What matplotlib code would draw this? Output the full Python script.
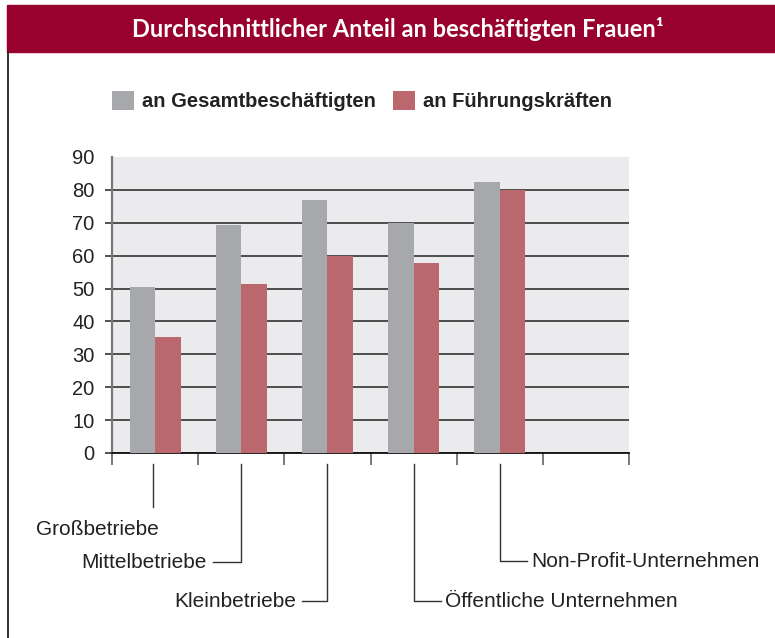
import numpy as np
import matplotlib
matplotlib.use('Agg')
import matplotlib.pyplot as plt
from matplotlib.patches import Rectangle, Patch
from matplotlib.lines import Line2D

plt.rcParams['font.family'] = ['Liberation Sans', 'DejaVu Sans']

# ---- data ----
categories = ['Großbetriebe', 'Mittelbetriebe', 'Kleinbetriebe',
              'Öffentliche Unternehmen', 'Non-Profit-Unternehmen']
series_names = ['an Gesamtbeschäftigten', 'an Führungskräften']
gesamt = [50.5, 69.3, 76.8, 69.9, 82.4]
fuehrung = [35.3, 51.3, 60.0, 57.7, 80.0]
yticks = [0, 10, 20, 30, 40, 50, 60, 70, 80, 90]
title = 'Durchschnittlicher Anteil an beschäftigten Frauen¹'

# ---- style ----
GRAY = '#a7a8ab'
RED = '#bb676e'
BANNER = '#98002e'
W, H = 775, 638

fig = plt.figure(figsize=(W / 100, H / 100), dpi=100)
fig.patch.set_facecolor('white')


def fx(px):
    return px / W


def fy(py):
    return 1 - py / H


ax = fig.add_axes([fx(112), fy(453), (629 - 112) / W, (453 - 157) / H])
n_slots = len(categories) + 1
x = np.arange(len(categories)) + 0.5
bw = 0.295
b1 = ax.bar(x - bw / 2, gesamt, bw, color=GRAY, zorder=3, label=series_names[0])
b2 = ax.bar(x + bw / 2, fuehrung, bw, color=RED, zorder=3, label=series_names[1])

ax.set_xlim(0, n_slots)
ax.set_ylim(yticks[0], yticks[-1])
ax.set_facecolor('#ebebee')
ax.set_axisbelow(True)
ax.set_yticks(yticks)
ax.set_xticks(np.arange(n_slots + 1))
ax.set_xticklabels([])
ax.tick_params(axis='x', direction='out', length=8.5, width=1.1, color='#555555')
ax.tick_params(axis='y', direction='out', length=5, width=1.2, color='#333333',
               pad=7.5, labelsize=14.5, labelcolor='#222222')
ax.yaxis.grid(True, color='#333333', lw=1.2)
ax.get_ygridlines()[-1].set_visible(False)
ax.yaxis.get_major_ticks()[-1].tick1line.set_visible(False)
for s in ['top', 'right']:
    ax.spines[s].set_visible(False)
ax.spines['left'].set_color('#777777')
ax.spines['left'].set_linewidth(1.6)
ax.spines['bottom'].set_color('#111111')
ax.spines['bottom'].set_linewidth(1.3)

# ---- legend ----
ax.legend(handles=[b1, b2], loc='upper left',
          bbox_to_anchor=(fx(112), fy(91)), bbox_transform=fig.transFigure,
          ncol=2, frameon=False, prop={'size': 14.5, 'weight': 'bold'},
          handlelength=1.09, handleheight=1.09, handletextpad=0.4,
          columnspacing=0.85, borderpad=0, borderaxespad=0, labelcolor='#222222')

# ---- banner + title ----
fig.add_artist(Rectangle((fx(7), fy(52)), fx(775) - fx(7), (52 - 5) / H,
                         transform=fig.transFigure, color=BANNER, zorder=0))
fig.text(fx(398), fy(29), title, color='white', ha='center', va='center',
         fontsize=17, fontweight='bold', family=['Lato', 'DejaVu Sans'])
fig.add_artist(Line2D([fx(7.5), fx(7.5)], [fy(52), 0], transform=fig.transFigure,
                      color='#222222', lw=1.3))

# ---- category leader labels ----
# (end_y px, horizontal end px or None, text x px, text ha, text baseline px)
leaders = [
    (507, None, 97.5, 'center', 535),
    (562, 213, 207, 'right', 568),
    (601, 302, 296, 'right', 607),
    (601, 441, 445, 'left', 607),
    (561, 527, 531, 'left', 567),
]
for i, (cat, (ey, hx, tx, ha, by)) in enumerate(zip(categories, leaders)):
    cx = ax.transData.transform((x[i], 0))[0]
    if i == 0:
        cx -= 2
    xs = [cx, cx] if hx is None else [cx, cx, hx]
    ys = [464, ey] if hx is None else [464, ey, ey]
    fig.add_artist(Line2D([fx(v) for v in xs], [fy(v) for v in ys],
                          transform=fig.transFigure, color='#333333', lw=1.0))
    fig.text(fx(tx), fy(by), cat, ha=ha, va='baseline', fontsize=15, color='#222222')

fig.savefig('out.png', dpi=100)
